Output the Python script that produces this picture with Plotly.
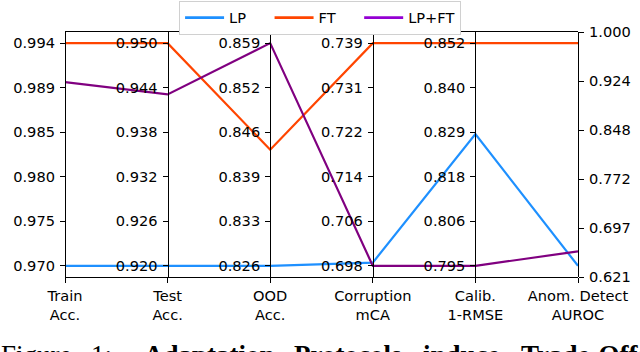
import numpy as np
import plotly.graph_objects as go

categories = ["Train<br>Acc.", "Test<br>Acc.", "OOD<br>Acc.", "Corruption<br>mCA",
              "Calib.<br>1-RMSE", "Anom. Detect<br>AUROC"]
lp = [0.9702, 0.9200, 0.8260, 0.6984, 0.8284, 0.6380]
ft = [0.9942, 0.9500, 0.8432, 0.7388, 0.8516, 0.9825]
lpft = [0.9900, 0.9431, 0.8590, 0.6978, 0.7948, 0.6604]
series_names = ["LP", "FT", "LP+FT"]
line_colors = ["#1E90FF", "#FF4500", "#800080"]
legend_colors = ["#1E90FF", "#FF4500", "#9400D3"]

caption_words = ["Figure", "1:", "Adaptation", "Protocols", "induce", "Trade-Offs"]
caption_x = [0, 90, 143, 293, 422, 520]
caption_bold = [False, False, True, True, True, True]

FONT = "DejaVu Sans"
FS = 14.6
data = np.array([lp, ft, lpft])
n_axes = data.shape[1]
lo = data.min(axis=0)
hi = data.max(axis=0)
rng = hi - lo
pad_lo = lo - 0.05 * rng
pad_hi = hi + 0.05 * rng
norm = (data - lo) / rng
xs = np.arange(n_axes)

fig = go.Figure()
for i, name in enumerate(series_names):
    fig.add_trace(go.Scatter(x=xs, y=norm[i], mode="lines", name=name,
                             line=dict(color=line_colors[i], width=2.2),
                             showlegend=False, hoverinfo="skip"))
for i, name in enumerate(series_names):
    label = name if i == len(series_names) - 1 else name + "\u00a0" * 4
    fig.add_trace(go.Scatter(x=[None], y=[None], mode="lines", name=label,
                             line=dict(color=legend_colors[i], width=2.8),
                             showlegend=True))

L, R, T, B = 65, 62.3, 32.3, 74.7
W, H = 640, 352
plot_h = H - T - B
plot_w = W - L - R

layout = dict(
    width=W, height=H, margin=dict(l=L, r=R, t=T, b=B, pad=0, autoexpand=False),
    paper_bgcolor="white", plot_bgcolor="white",
    font=dict(family=FONT, size=FS, color="black"),
    xaxis=dict(range=[0, n_axes - 1], tickvals=list(xs), ticktext=categories,
               ticks="outside", ticklen=5, tickcolor="black", tickwidth=1.2,
               showline=True, linecolor="black", linewidth=1.2, mirror=True,
               showgrid=False, zeroline=False, automargin=False,
               tickfont=dict(family=FONT, size=FS, color="black")),
    yaxis=dict(range=[-0.05, 1.05], visible=False, fixedrange=True),
    showlegend=True,
    legend=dict(orientation="h", x=(179 - L) / plot_w, xanchor="left",
                y=1 + (T - 1) / plot_h, yanchor="top",
                bgcolor="white", bordercolor="#d0d0d0", borderwidth=1,
                font=dict(family=FONT, size=FS, color="black"),
                itemwidth=39),
)

for k in range(n_axes):
    name = "yaxis%d" % (k + 2)
    if k == n_axes - 1:
        tv = np.linspace(pad_lo[k], pad_hi[k], 6)
        side = "right"
    else:
        tv = np.linspace(lo[k], hi[k], 6)
        side = "left"
    layout[name] = dict(
        overlaying="y", anchor="free", position=k / (n_axes - 1), side=side,
        range=[pad_lo[k], pad_hi[k]], tickvals=list(tv), tickformat=".3f",
        ticks="outside", ticklen=5, tickcolor="black", tickwidth=1.2,
        showline=True, linecolor="black", linewidth=1.2, automargin=False,
        showgrid=False, zeroline=False, ticklabelstandoff=2,
        tickfont=dict(family=FONT, size=FS, color="black"))
    fig.add_trace(go.Scatter(x=[None], y=[None], yaxis="y%d" % (k + 2),
                             showlegend=False, hoverinfo="skip"))

fig.update_layout(**layout)

for word, x0, bold in zip(caption_words, caption_x, caption_bold):
    fig.add_annotation(text=word, x=x0 / W, xref="paper", xanchor="left",
                       y=(H - 339) / H, yref="paper", yanchor="top",
                       showarrow=False, borderpad=0,
                       font=dict(family="Liberation Serif", size=27, color="black",
                                 weight="bold" if bold else "normal"))

for ann in fig.layout.annotations:
    px = ann.x * W
    py = H - ann.y * H
    ann.x = (px - L) / plot_w
    ann.y = (H - B - py) / plot_h

fig.write_html("out.html", config={"displayModeBar": False},
               post_script="document.body.style.margin='0';document.body.style.overflow='hidden';")
